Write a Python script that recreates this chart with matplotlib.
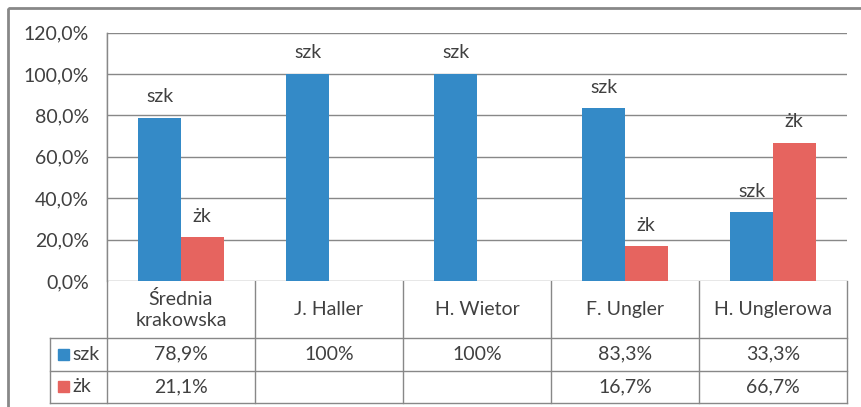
import matplotlib
matplotlib.use('Agg')
import matplotlib.pyplot as plt
from matplotlib.patches import Rectangle
import numpy as np

plt.rcParams['font.family'] = ['Lato', 'DejaVu Sans']

# dane
kategorie = ['Średnia\nkrakowska', 'J. Haller', 'H. Wietor', 'F. Ungler', 'H. Unglerowa']
szk = [78.9, 100, 100, 83.3, 33.3]
zk = [21.1, None, None, 16.7, 66.7]
szk_txt = ['78,9%', '100%', '100%', '83,3%', '33,3%']
zk_txt = ['21,1%', '', '', '16,7%', '66,7%']
serie = ['szk', 'żk']
yticks = [0, 20, 40, 60, 80, 100, 120]

kolor_szk = '#348ac7'
kolor_zk = '#e6645f'
szary = '#888888'
tekst = '#404040'
fs = 14

W, H = 862, 407
fig = plt.figure(figsize=(W / 100, H / 100), dpi=100)


def px(x0, y0, x1, y1):
    # prostokat w pikselach -> wspolrzedne figury
    return [x0 / W, 1 - y1 / H, (x1 - x0) / W, (y1 - y0) / H]


# ramka wykresu
tlo = fig.add_axes([0, 0, 1, 1])
tlo.set_xlim(0, W)
tlo.set_ylim(H, 0)
tlo.axis('off')
tlo.add_patch(Rectangle((8, 8), 900, 450, fill=False, ec=szary, lw=2))

# obszar wykresu
L, R, T, B = 107, 847, 32.5, 281
ax = fig.add_axes(px(L, T, R, B))
x = np.arange(len(kategorie))
w = 0.2875
ax.bar(x - w / 2, szk, w, color=kolor_szk, zorder=3)
zk_vals = [v if v is not None else 0 for v in zk]
ax.bar(x + w / 2, zk_vals, w, color=kolor_zk, zorder=3)
for i in range(len(x)):
    ax.annotate('szk', (x[i] - w / 2, szk[i]), xytext=(0, 9), textcoords='offset points',
                ha='center', va='bottom', fontsize=fs, color=tekst)
    if zk[i] is not None:
        ax.annotate('żk', (x[i] + w / 2, zk[i]), xytext=(0, 9), textcoords='offset points',
                    ha='center', va='bottom', fontsize=fs, color=tekst)
ax.set_xlim(-0.5, len(kategorie) - 0.5)
ax.set_ylim(0, 120)
ax.set_yticks(yticks)
ax.set_yticklabels(['%d,0%%' % v for v in yticks], fontsize=fs, color=tekst)
ax.tick_params(axis='y', length=0, pad=13)
ax.set_xticks([])
ax.grid(axis='y', color=szary, lw=1, zorder=0)
for s in ['top', 'right', 'bottom']:
    ax.spines[s].set_visible(False)
ax.spines['left'].set_color(szary)
ax.spines['left'].set_linewidth(1)

# tabela danych
granice = [L + i * (R - L) / len(kategorie) for i in range(len(kategorie) + 1)]
lx = 50
y_nag, y_r1, y_r2, y_dol = 281, 338, 370.5, 403
kw = dict(color=szary, lw=1)
tlo.plot([L, L], [T, y_dol], **kw)
for g in granice[1:]:
    tlo.plot([g, g], [y_nag, y_dol], **kw)
tlo.plot([lx, R], [y_r1, y_r1], **kw)
tlo.plot([lx, R], [y_r2, y_r2], **kw)
tlo.plot([lx, R], [y_dol, y_dol], **kw)
tlo.plot([lx, lx], [y_r1, y_dol], **kw)
for i, k in enumerate(kategorie):
    cx = (granice[i] + granice[i + 1]) / 2
    tlo.text(cx, (y_nag + y_r1) / 2, k, ha='center', va='center', fontsize=fs,
             color=tekst, linespacing=1.25)
    tlo.text(cx, (y_r1 + y_r2) / 2, szk_txt[i], ha='center', va='center', fontsize=fs, color=tekst)
    tlo.text(cx, (y_r2 + y_dol) / 2, zk_txt[i], ha='center', va='center', fontsize=fs, color=tekst)
for j, (nazwa, kol) in enumerate(zip(serie, [kolor_szk, kolor_zk])):
    yc = [(y_r1 + y_r2) / 2, (y_r2 + y_dol) / 2][j]
    tlo.add_patch(Rectangle((58, yc - 5.5), 11, 11, color=kol))
    tlo.text(72, yc, nazwa, ha='left', va='center', fontsize=fs, color=tekst)

fig.savefig('out.png', dpi=100)
